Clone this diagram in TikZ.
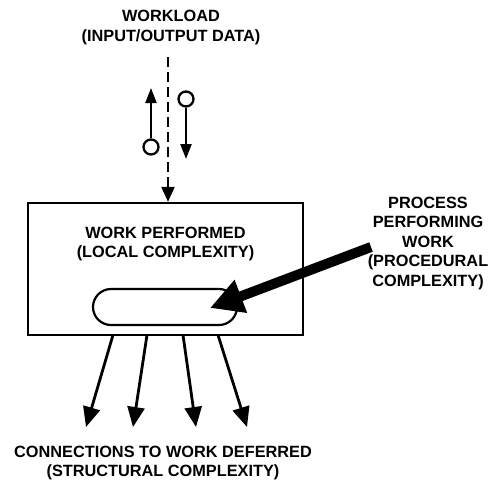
\documentclass[tikz,border=0pt]{standalone}
\usepackage{fontspec}
\setmainfont{Liberation Sans}
\usetikzlibrary{arrows.meta,shapes.misc}
\begin{document}
\begin{tikzpicture}[x=1pt,y=-1pt,
  lbl/.style={font=\bfseries\fontsize{16.3}{19.5}\selectfont, align=center, inner sep=0pt},
  frame/.style={draw, line width=2.4pt, minimum width=275pt, minimum height=132pt, inner sep=0pt},
  capsule/.style={draw, line width=2.2pt, rounded rectangle, minimum width=144pt, minimum height=36pt, inner sep=0pt},
  smallarrow/.style={line width=2.3pt, -{Triangle[length=15pt,width=11pt]}},
  ring/.style={draw, circle, line width=2.3pt, minimum size=15pt, inner sep=0pt},
  outarrow/.style={line width=2.8pt, -{Triangle[length=20pt,width=17pt]}},
  bigarrow/.style={line width=10pt, -{Triangle[length=33pt,width=33pt]}},
  dasharrow/.style={line width=2.3pt, dash pattern=on 10pt off 5pt, -{Triangle[length=15pt,width=13pt]}}
]
\useasboundingbox (0,0) rectangle (489,483);

% labels
\node[lbl] (workload) at (171,27.5) {WORKLOAD\\(INPUT/OUTPUT DATA)};
\node[lbl] (process) at (428,243) {PROCESS\\PERFORMING\\WORK\\(PROCEDURAL\\COMPLEXITY)};
\node[lbl] (deferred) at (163,463) {CONNECTIONS TO WORK DEFERRED\\(STRUCTURAL COMPLEXITY)};

% box and capsule
\node[frame] (box) at (165.5,269) {};
\node[lbl] (perf) at (165.5,244) {WORK PERFORMED\\(LOCAL COMPLEXITY)};
\node[capsule] (cap) at (165,307) {};

% dashed workload arrow
\coordinate (dtop) at (168,57);
\draw[dasharrow] (dtop) -- (dtop |- box.north);

% input / output arrows
\node[ring] (cin) at (151,147) {};
\coordinate (uptip) at (151,88);
\draw[smallarrow] (cin) -- (uptip);
\node[ring] (cout) at (186,99) {};
\coordinate (downtip) at (186,159);
\draw[smallarrow] (cout) -- (downtip);

% process arrow
\coordinate (ptail) at (371,247);
\coordinate (ptip) at (210,308);
\draw[bigarrow] (ptail) -- (ptip);

% connections to work deferred
\coordinate (s1) at (113,335);
\coordinate (s2) at (147,335);
\coordinate (s3) at (183,335);
\coordinate (s4) at (218,335);
\coordinate (t1) at (86,427);
\coordinate (t2) at (133,427);
\coordinate (t3) at (196,427);
\coordinate (t4) at (247,427);
\draw[outarrow] (s1) -- (t1);
\draw[outarrow] (s2) -- (t2);
\draw[outarrow] (s3) -- (t3);
\draw[outarrow] (s4) -- (t4);
\end{tikzpicture}
\end{document}
